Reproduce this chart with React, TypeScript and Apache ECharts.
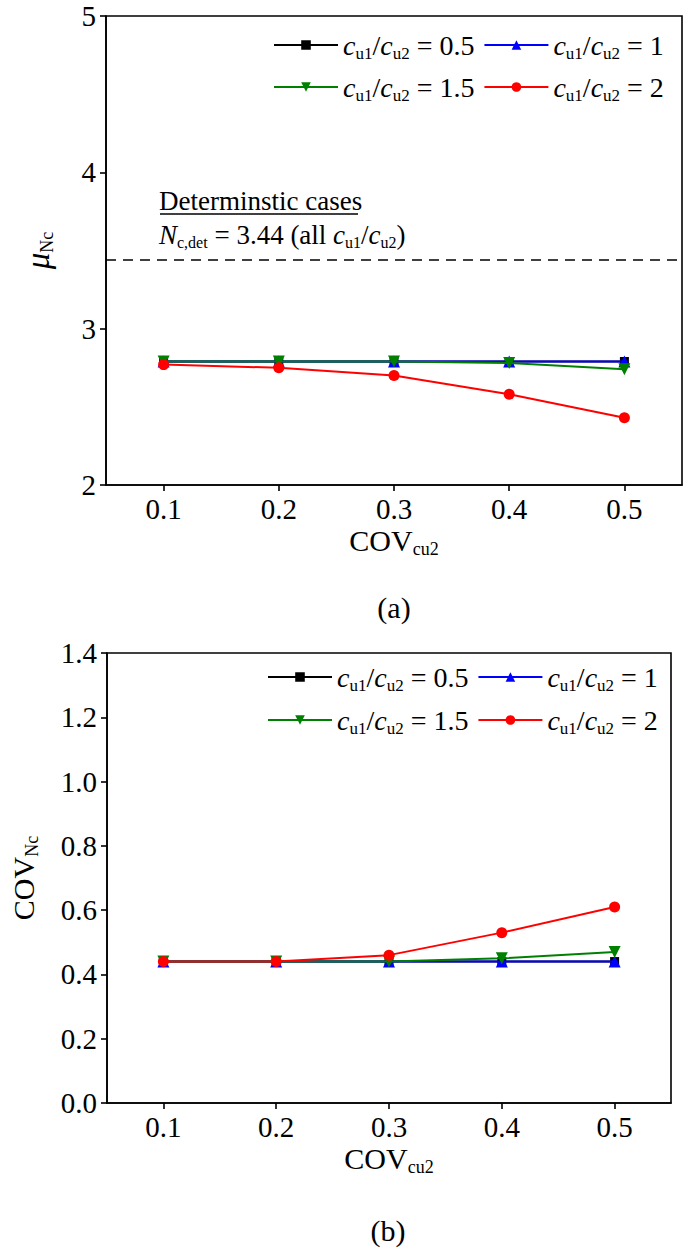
import React, { useEffect, useRef } from "react";
import * as echarts from "echarts";

const covCu2 = [0.1, 0.2, 0.3, 0.4, 0.5];
const ratioNames = ["0.5", "1", "1.5", "2"];
const muNc_05 = [2.79, 2.79, 2.79, 2.79, 2.79];
const muNc_1 = [2.79, 2.79, 2.79, 2.79, 2.79];
const muNc_15 = [2.79, 2.79, 2.79, 2.78, 2.74];
const muNc_2 = [2.77, 2.75, 2.7, 2.58, 2.43];
const covNc_05 = [0.44, 0.44, 0.44, 0.44, 0.44];
const covNc_1 = [0.44, 0.44, 0.44, 0.44, 0.44];
const covNc_15 = [0.44, 0.44, 0.44, 0.45, 0.47];
const covNc_2 = [0.44, 0.44, 0.46, 0.53, 0.61];
const nDet = 3.44;
const yTicksA = [2, 3, 4, 5];
const yTicksB = [0, 0.2, 0.4, 0.6, 0.8, 1.0, 1.2, 1.4];

const FONT = "Liberation Serif";
const TICK = 29;
const colors = ["#000000", "#0000ff", "#008000", "#ff0000"];
const symbols = ["rect", "triangle", "path://M0,0 L10,0 L5,9 Z", "circle"];
const symbolSizes = [9, 12, 12, 11];

function makeRich(main: number, sub: number) {
  const lh = Math.round(main * 1.2);
  return {
    i: { fontFamily: FONT, fontStyle: "italic", fontSize: main, color: "#000", lineHeight: lh, verticalAlign: "middle" },
    m: { fontFamily: FONT, fontStyle: "italic", fontSize: main + 3, color: "#000", lineHeight: lh, verticalAlign: "middle" },
    s: { fontFamily: FONT, fontSize: sub, color: "#000", lineHeight: Math.round(sub * 0.7), verticalAlign: "bottom" },
    n: { fontFamily: FONT, fontSize: main, color: "#000", lineHeight: lh, verticalAlign: "middle" },
  } as any;
}

function mkSeries(data: number[][], xIdx: number, yIdx: number, withMark: boolean) {
  return data.map((vals, k) => {
    const s: any = {
      type: "line",
      name: ratioNames[k],
      xAxisIndex: xIdx,
      yAxisIndex: yIdx,
      data: covCu2.map((x, j) => [x, vals[j]]),
      symbol: symbols[k],
      symbolSize: symbolSizes[k],
      showAllSymbol: true,
      itemStyle: { color: colors[k] },
      lineStyle: { color: colors[k], width: 2 },
      z: 2 + k,
    };
    if (withMark && k === 0) {
      s.markLine = {
        silent: true,
        symbol: ["none", "none"],
        label: { show: false },
        lineStyle: { color: "#000", type: [10, 7], width: 1.6 },
        data: [{ yAxis: nDet }],
      };
    }
    return s;
  });
}

function legendRow(names: string[], left: number, top: number, size: number) {
  return {
    data: names,
    left,
    top,
    orient: "horizontal",
    padding: 0,
    itemGap: 9,
    itemWidth: 64,
    itemHeight: 12,
    selectedMode: false,
    textStyle: { fontFamily: FONT, fontSize: size, color: "#000", rich: makeRich(size, Math.round(size * 0.6)) },
    formatter: (name: string) => `{i|c}{s|u1}{n|/}{i|c}{s|u2}{n| = ${name}}`,
  };
}

function xAxis(gridIndex: number) {
  return {
    type: "value",
    gridIndex,
    min: 0.05,
    max: 0.55,
    name: "{n|COV}{s|cu2}",
    nameLocation: "middle",
    nameGap: 37,
    nameTextStyle: { rich: makeRich(30, 18) },
    axisLine: { show: true, lineStyle: { color: "#000", width: 1.6 } },
    axisTick: { show: true, length: 6, inside: false, customValues: covCu2, lineStyle: { color: "#000", width: 1.6 } },
    axisLabel: { customValues: covCu2, fontFamily: FONT, fontSize: TICK, color: "#000", margin: 9, formatter: (v: number) => v.toFixed(1) },
    splitLine: { show: false },
  };
}

const axisCommon = {
  axisLine: { show: true, lineStyle: { color: "#000", width: 1.6 } },
  axisTick: { show: true, length: 6, lineStyle: { color: "#000", width: 1.6 } },
  splitLine: { show: false },
};

export default function App() {
  const ref = useRef<HTMLDivElement>(null);
  useEffect(() => {
    const chart = echarts.init(ref.current!, null, { renderer: "svg" });
    const annRich = makeRich(27, 16);
    const panelRich = makeRich(30, 18);
    const option: any = {
      animation: false,
      backgroundColor: "#fff",
      textStyle: { fontFamily: FONT },
      grid: [
        { left: 106, right: 3, top: 16, bottom: 770, show: true, borderColor: "#000", borderWidth: 1.6, containLabel: false },
        { left: 106, right: 14, top: 653, bottom: 152, show: true, borderColor: "#000", borderWidth: 1.6, containLabel: false },
      ],
      xAxis: [xAxis(0), xAxis(1)],
      yAxis: [
        {
          type: "value",
          gridIndex: 0,
          min: 2,
          max: 5,
          interval: 1,
          name: "{m|μ}{s|Nc}",
          nameLocation: "middle",
          nameRotate: 90,
          nameGap: 50,
          nameTextStyle: { rich: makeRich(30, 18) },
          ...axisCommon,
          axisLabel: { fontFamily: FONT, fontSize: TICK, color: "#000", margin: 10, formatter: (v: number) => (yTicksA.includes(v) ? String(v) : "") },
        },
        {
          type: "value",
          gridIndex: 1,
          min: 0,
          max: 1.4,
          interval: 0.2,
          name: "{n|COV}{s|Nc}",
          nameLocation: "middle",
          nameRotate: 90,
          nameGap: 66,
          nameTextStyle: { rich: makeRich(30, 18) },
          ...axisCommon,
          axisLabel: { fontFamily: FONT, fontSize: TICK, color: "#000", margin: 10, formatter: (v: number) => {
            const t = yTicksB.find((u) => Math.abs(u - v) < 1e-6);
            return t === undefined ? "" : t.toFixed(1);
          } },
        },
      ],
      legend: [
        legendRow(["0.5", "1"], 273, 31, 28),
        legendRow(["1.5", "2"], 273, 73, 28),
        legendRow(["0.5", "1"], 267, 663, 28),
        legendRow(["1.5", "2"], 267, 706, 28),
      ],
      series: [
        ...mkSeries([muNc_05, muNc_1, muNc_15, muNc_2], 0, 0, true),
        ...mkSeries([covNc_05, covNc_1, covNc_15, covNc_2], 1, 1, false),
      ],
      graphic: [
        { type: "text", left: 159, top: 187, style: { text: "{n|Determinstic cases}", rich: annRich } },
        { type: "line", shape: { x1: 160, y1: 214, x2: 358, y2: 214 }, style: { stroke: "#000", lineWidth: 1.3 } },
        {
          type: "text",
          left: 159,
          top: 221,
          style: { text: "{i|N}{s|c,det}{n| = 3.44 (all }{i|c}{s|u1}{n|/}{i|c}{s|u2}{n|)}", rich: annRich },
        },
        { type: "text", x: 394, y: 607, style: { text: "{n|(a)}", rich: panelRich, align: "center", verticalAlign: "middle" } },
        { type: "text", x: 388, y: 1230, style: { text: "{n|(b)}", rich: panelRich, align: "center", verticalAlign: "middle" } },
      ],
    };
    chart.setOption(option);
    return () => chart.dispose();
  }, []);
  return <div ref={ref} style={{ position: "absolute", left: 0, top: 0, width: 685, height: 1255 }} />;
}
